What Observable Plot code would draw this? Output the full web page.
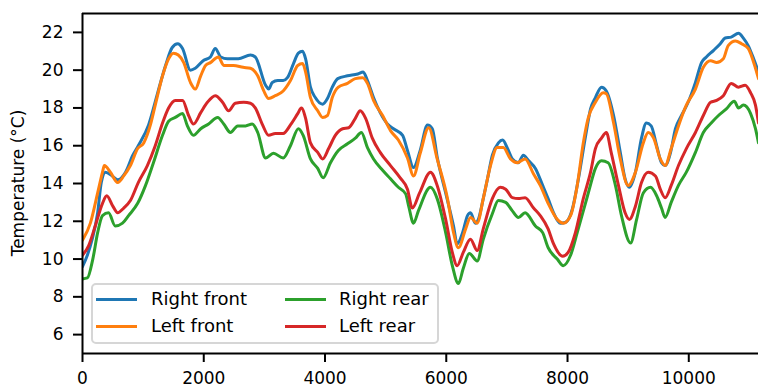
<!DOCTYPE html>
<html>
<head>
<meta charset="utf-8">
<script src="https://cdn.jsdelivr.net/npm/d3@7"></script>
<script src="https://cdn.jsdelivr.net/npm/@observablehq/plot@0.6"></script>
<style>
  html, body { margin: 0; padding: 0; background: white; overflow: hidden; }
  #wrap { position: relative; width: 758px; height: 389px; font-family: "DejaVu Sans", sans-serif; color: #000; }
  #ylabel { position: absolute; left: 18px; top: 183px; transform: translate(-50%, -50%) rotate(-90deg); font-size: 17px; white-space: nowrap; }
  #legend { position: absolute; left: 91px; top: 283px; width: 344px; height: 57px; border: 2px solid #d6d6d6; border-radius: 5px; background: rgba(255,255,255,0.85); }
  .sw { position: absolute; height: 3px; width: 41px; }
  .lt { position: absolute; font-size: 18px; line-height: 18px; white-space: nowrap; }
</style>
</head>
<body>
<div id="wrap">
  <div id="chart"></div>
  <div id="ylabel">Temperature (°C)</div>
  <div id="legend"></div>
</div>
<script>
// Series names & colours
const seriesNames = ["Right front", "Left front", "Right rear", "Left rear"];
const seriesColors = ["#1f77b4", "#ff7f0e", "#2ca02c", "#d62728"];

// Right front
const rightFrontX = [0,80,160,250,310,380,490,580,710,830,920,1090,1240,1370,1480,1570,1650,1780,1860,1990,2110,2190,2280,2390,2570,2770,2850,3020,3070,3130,3220,3310,3380,3480,3560,3630,3680,3760,3840,3960,4040,4120,4210,4370,4540,4630,4700,4800,4910,5030,5130,5280,5360,5460,5570,5690,5770,5850,5990,6120,6180,6270,6350,6400,6480,6530,6610,6680,6760,6860,6930,7010,7090,7190,7270,7360,7470,7590,7680,7770,7880,7970,8080,8180,8300,8380,8460,8560,8640,8760,8870,8950,9020,9120,9220,9300,9380,9470,9550,9610,9700,9780,9880,9990,10110,10210,10290,10410,10520,10600,10700,10820,10900,10980,11070,11150];
const rightFrontT = [9.6,10.2,11.05,12.45,14.05,14.6,14.4,14.2,14.6,15.5,16.0,17.1,18.8,20.25,21.2,21.4,21.15,20.0,20.1,20.5,20.7,21.15,20.7,20.6,20.6,20.8,20.7,19.2,19.0,19.35,19.45,19.45,19.6,20.35,20.9,21.0,20.6,19.1,18.55,18.2,18.5,19.1,19.55,19.7,19.8,19.9,19.45,18.55,17.75,17.15,16.9,16.55,15.75,14.85,15.75,17.1,16.9,15.4,13.5,11.75,10.8,11.4,12.3,12.45,11.9,12.1,13.2,14.25,15.5,16.15,16.3,15.85,15.3,15.1,15.5,15.2,14.8,13.9,13.2,12.45,11.9,11.95,12.65,14.25,16.55,17.95,18.55,19.1,18.9,17.6,15.65,14.25,13.8,14.6,16.4,17.2,17.05,16.0,15.1,14.95,15.65,16.9,17.6,18.3,19.35,20.4,20.7,21.05,21.4,21.7,21.75,21.95,21.7,21.3,20.6,19.9];

// Left front
const leftFrontX = [0,130,250,330,360,460,580,680,790,910,1010,1120,1200,1320,1420,1500,1580,1670,1780,1860,1950,2030,2110,2240,2330,2490,2650,2770,2890,2990,3070,3180,3310,3430,3550,3630,3680,3760,3880,3960,4040,4120,4220,4370,4500,4620,4700,4800,4950,5080,5210,5360,5460,5570,5710,5850,6020,6120,6200,6320,6400,6510,6610,6730,6840,6940,7060,7170,7300,7440,7550,7680,7830,7930,8050,8160,8260,8340,8460,8590,8640,8760,8870,9000,9120,9250,9330,9420,9530,9610,9710,9830,9960,10110,10240,10360,10460,10570,10650,10770,10870,10980,11100,11150];
const leftFrontT = [11.0,11.9,13.5,14.6,14.95,14.6,14.05,14.4,14.95,15.85,16.15,17.1,18.15,19.7,20.6,20.9,20.8,20.4,19.35,19.0,19.7,20.25,20.4,20.7,20.25,20.25,20.15,20.1,19.7,18.9,18.5,18.65,18.9,19.45,20.25,20.35,19.9,18.55,17.85,17.5,17.6,18.55,19.1,19.3,19.55,19.6,19.3,18.4,17.6,16.8,16.3,15.35,14.4,15.6,16.95,15.3,13.2,11.4,10.6,11.6,12.2,11.9,13.2,14.95,15.9,15.9,15.3,15.1,15.3,14.5,13.9,12.95,12.1,11.9,12.3,13.9,16.15,17.45,18.3,18.8,18.75,17.2,15.3,13.9,14.6,16.15,16.7,16.4,15.3,14.95,15.85,17.05,18.15,19.0,20.15,20.5,20.4,20.6,21.3,21.55,21.4,21.15,20.1,19.55];

// Right rear
const rightRearX = [0,80,170,250,330,430,540,660,760,910,1040,1170,1320,1420,1530,1650,1730,1830,1950,2080,2230,2330,2440,2560,2690,2800,2890,3020,3150,3310,3430,3560,3640,3760,3880,3970,4090,4220,4370,4500,4600,4700,4800,4950,5080,5210,5330,5380,5460,5540,5740,5850,5990,6100,6200,6280,6380,6510,6610,6760,6860,6980,7090,7190,7300,7470,7590,7680,7830,7930,8050,8160,8300,8360,8460,8560,8670,8790,8890,9040,9140,9250,9370,9470,9550,9610,9710,9830,9960,10110,10240,10370,10490,10620,10750,10820,10900,11020,11100,11150];
const rightRearT = [8.95,9.0,10.0,11.4,12.3,12.45,11.75,11.9,12.3,12.95,13.9,15.1,16.55,17.3,17.5,17.7,17.05,16.55,16.9,17.15,17.5,17.15,16.7,17.05,17.05,17.15,16.7,15.35,15.6,15.35,16.0,16.9,16.55,15.3,14.8,14.3,15.1,15.75,16.1,16.4,16.7,15.9,15.3,14.7,14.25,13.8,13.45,12.8,11.9,12.55,13.8,13.2,11.4,9.65,8.7,9.5,10.3,9.9,11.05,12.4,13.1,13.0,12.55,12.2,12.45,11.75,11.4,10.6,10.0,9.65,10.2,11.4,13.0,13.7,14.8,15.2,15.1,13.9,12.3,10.85,12.1,13.5,13.8,13.35,12.7,12.2,13.0,13.9,14.6,15.65,16.7,17.2,17.6,17.95,18.35,18.0,18.15,17.7,16.9,16.15];

// Left rear
const leftRearX = [0,100,210,330,400,500,580,680,790,920,1070,1200,1320,1420,1530,1650,1750,1830,1950,2060,2190,2310,2410,2520,2660,2770,2850,2970,3070,3180,3310,3430,3550,3610,3680,3760,3880,3960,4060,4170,4290,4390,4500,4580,4670,4780,4910,5080,5240,5360,5440,5560,5740,5850,5990,6100,6180,6280,6400,6510,6610,6760,6890,6980,7090,7190,7300,7440,7550,7680,7770,7920,8010,8130,8260,8380,8460,8560,8640,8720,8840,8950,9020,9120,9220,9330,9450,9530,9610,9710,9830,9960,10110,10240,10360,10460,10570,10700,10820,10930,11020,11100,11150];
const leftRearT = [10.2,10.7,11.75,12.95,13.35,12.8,12.45,12.7,13.1,14.05,14.95,16.0,17.2,18.0,18.4,18.4,17.6,17.15,17.75,18.3,18.65,18.3,17.85,18.25,18.3,18.25,18.0,17.1,16.55,16.65,16.65,17.1,17.7,18.0,17.45,16.15,15.65,15.3,15.85,16.55,16.9,16.95,17.45,17.85,17.45,16.4,15.65,14.95,14.3,13.7,12.7,13.5,14.6,13.9,12.1,10.35,9.65,10.35,11.05,10.45,11.6,13.2,13.8,13.7,13.25,13.2,13.25,12.7,12.3,11.6,10.8,10.15,10.35,11.4,13.2,14.6,15.85,16.4,16.7,15.65,13.9,12.45,12.1,12.8,14.05,14.6,14.4,13.7,13.25,13.9,14.95,15.85,16.7,17.6,18.3,18.4,18.65,19.3,19.1,19.2,18.8,18.15,17.2];

// Axis ticks
const xTicks = [0, 2000, 4000, 6000, 8000, 10000];
const yTicks = [6, 8, 10, 12, 14, 16, 18, 20, 22];

const seriesX = [rightFrontX, leftFrontX, rightRearX, leftRearX];
const seriesT = [rightFrontT, leftFrontT, rightRearT, leftRearT];
const tables = seriesX.map((xs, i) => xs.map((x, j) => ({x, t: seriesT[i][j], name: seriesNames[i]})));

const chart = Plot.plot({
  width: 758,
  height: 389,
  marginLeft: 82,
  marginRight: 0,
  marginTop: 13,
  marginBottom: 36,
  x: {domain: [0, 11150]},
  y: {domain: [5, 23]},
  style: {fontFamily: "DejaVu Sans, sans-serif", fontSize: "17px", color: "#000", background: "white"},
  marks: [
    ...tables.map((tb, i) => Plot.line(tb, {x: "x", y: "t", stroke: seriesColors[i], strokeWidth: 3, curve: "monotone-x", clip: true, strokeLinejoin: "round"})),
    Plot.ruleX([0], {stroke: "#000", strokeWidth: 2}),
    Plot.ruleY([5, 23], {stroke: "#000", strokeWidth: 2}),
    Plot.axisX({ticks: xTicks, tickFormat: d => String(d), tickSize: 9, tickPadding: 9, strokeWidth: 2, label: null, fontSize: 17}),
    Plot.axisY({ticks: yTicks, tickFormat: d => String(d), tickSize: 9, tickPadding: 10, strokeWidth: 2, label: null, fontSize: 17})
  ]
});
document.getElementById("chart").appendChild(chart);

// Legend (two columns)
const legend = document.getElementById("legend");
const pos = [[3, 58, 14], [3, 58, 41], [192, 246, 14], [192, 246, 41]];
seriesNames.forEach((name, i) => {
  const [sx, tx, cy] = pos[i];
  const sw = document.createElement("div");
  sw.className = "sw";
  sw.style.left = sx + "px";
  sw.style.top = (cy - 1.5) + "px";
  sw.style.background = seriesColors[i];
  legend.appendChild(sw);
  const lt = document.createElement("div");
  lt.className = "lt";
  lt.style.left = tx + "px";
  lt.style.top = (cy - 9) + "px";
  lt.textContent = name;
  legend.appendChild(lt);
});
</script>
</body>
</html>
